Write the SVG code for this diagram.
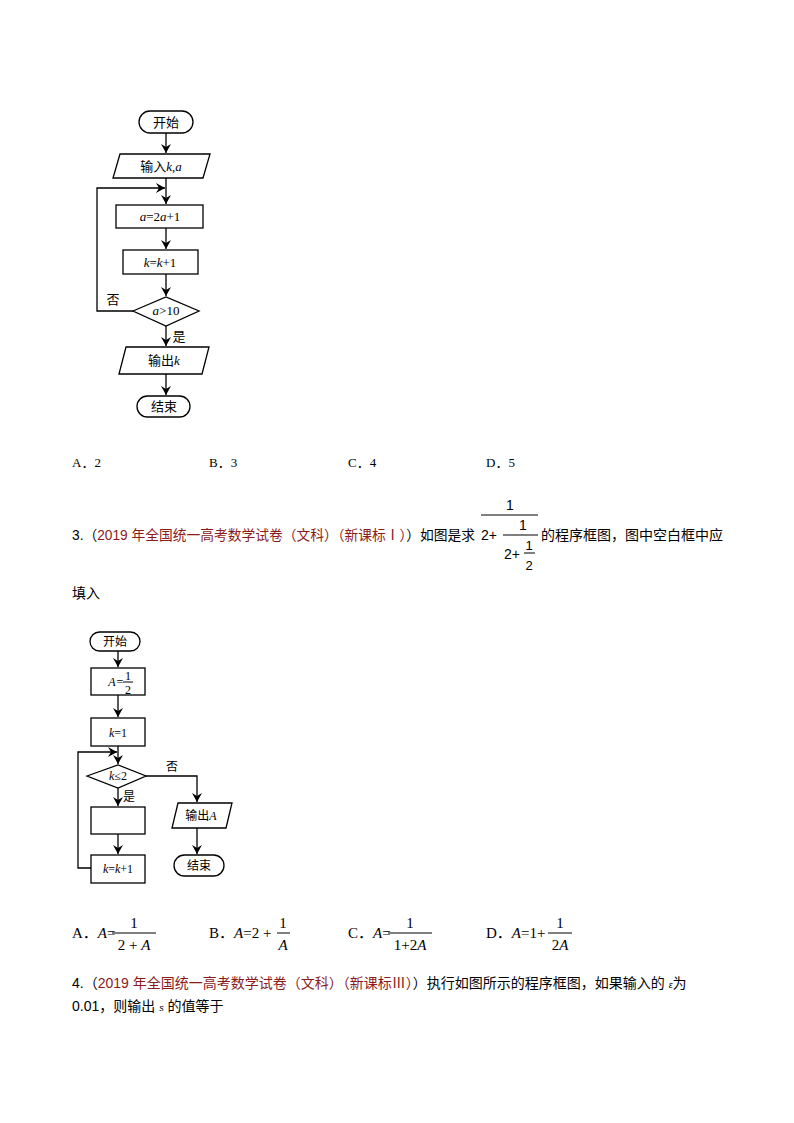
<svg xmlns="http://www.w3.org/2000/svg" width="794" height="1123" viewBox="0 0 794 1123">
<style>
text{font-family:"Liberation Serif","Noto Sans CJK SC",serif;font-size:13px;fill:#000}
.c{text-anchor:middle}
.i{font-style:italic}
.r{fill:#8b1a1a}
.s{fill:none;stroke:#000;stroke-width:1.3}
.t{font-family:"Liberation Sans","Noto Sans CJK SC",sans-serif;font-size:14px}
.m{font-size:12px}
.o{font-size:15px}
.f{font-family:"Liberation Sans",sans-serif;font-size:14px}
</style>
<defs><marker id="a" markerWidth="10" markerHeight="10" refX="9" refY="5" orient="auto" markerUnits="userSpaceOnUse"><path d="M0,0 L9,5 L0,10 L3,5 Z" fill="#000"/></marker></defs>
<rect width="794" height="1123" fill="#fff"/>
<g id="connectors1" class="s" marker-end="url(#a)">
<line x1="166" y1="133" x2="166" y2="153"/>
<line x1="166" y1="178" x2="166" y2="204"/>
<polyline points="133,311 97,311 97,188 165,188"/>
<line x1="166" y1="228" x2="166" y2="249"/>
<line x1="166" y1="274" x2="166" y2="296"/>
<line x1="166" y1="326" x2="166" y2="346"/>
<line x1="166" y1="374" x2="166" y2="395"/>
</g>
<g id="f1start"><rect x="139" y="111" width="54" height="22" rx="11" class="s"/><text x="166" y="127" class="c">开始</text></g>
<g id="f1in"><polygon points="120,154 210,154 203,178 113,178" class="s"/><text x="161" y="171" class="c">输入<tspan class="i">k</tspan>,<tspan class="i">a</tspan></text></g>
<g id="f1a"><rect x="116" y="205" width="87" height="23" class="s"/><text x="160" y="221" class="c"><tspan class="i">a</tspan>=2<tspan class="i">a</tspan>+1</text></g>
<g id="f1k"><rect x="123" y="250" width="75" height="24" class="s"/><text x="160" y="267" class="c"><tspan class="i">k</tspan>=<tspan class="i">k</tspan>+1</text></g>
<g id="f1d"><polygon points="133,311 166,297 199,311 166,326" class="s"/><text x="166" y="315" class="c"><tspan class="i">a</tspan>&gt;10</text></g>
<text x="113" y="304" class="c">否</text>
<text x="179" y="341" class="c">是</text>
<g id="f1out"><polygon points="126,347 209,347 202,374 119,374" class="s"/><text x="164" y="365" class="c">输出<tspan class="i">k</tspan></text></g>
<g id="f1end"><rect x="137" y="396" width="53" height="21" rx="10.5" class="s"/><text x="164" y="411" class="c">结束</text></g>

<text x="72" y="467">A．2</text><text x="209" y="467">B．3</text><text x="348" y="467">C．4</text><text x="486" y="467">D．5</text>

<text x="72" y="540" class="t" textLength="403" lengthAdjust="spacingAndGlyphs">3.（<tspan class="r">2019 年全国统一高考数学试卷（文科）（新课标Ⅰ）</tspan>）如图是求</text>
<text x="510" y="510" class="c f">1</text>
<line x1="481" y1="515" x2="538" y2="515" stroke="#000"/>
<text x="481" y="540" class="f">2+</text>
<text x="523" y="530" class="c f">1</text>
<line x1="503" y1="535" x2="538" y2="535" stroke="#000"/>
<text x="504" y="559" class="f">2+</text>
<text x="529" y="550" class="c f" style="font-size:13px">1</text>
<line x1="524" y1="553" x2="535" y2="553" stroke="#000"/>
<text x="529" y="570" class="c f" style="font-size:13px">2</text>
<text x="541" y="540" class="t">的程序框图，图中空白框中应</text>
<text x="72" y="598" class="t">填入</text>

<g id="connectors2" class="s" marker-end="url(#a)">
<line x1="118" y1="651" x2="118" y2="667"/>
<line x1="118" y1="695" x2="118" y2="717"/>
<line x1="118" y1="746" x2="118" y2="764"/>
<polyline points="91,868 78,868 78,752 117,752"/>
<polyline points="146,776 197,776 197,802"/>
<line x1="118" y1="788" x2="118" y2="806"/>
<line x1="118" y1="834" x2="118" y2="854"/>
<line x1="197" y1="828" x2="197" y2="854"/>
</g>
<g id="f2start"><rect x="90" y="632" width="50" height="19" rx="9.5" class="s"/><text x="115" y="646" class="c m">开始</text></g>
<g id="f2A"><rect x="91" y="668" width="54" height="27" class="s"/><text x="112" y="686" class="i c m">A</text><text x="120" y="686" class="c m">=</text><text x="128" y="680" class="c m">1</text><line x1="123" y1="682" x2="133" y2="682" stroke="#000"/><text x="128" y="694" class="c m">2</text></g>
<g id="f2k"><rect x="91" y="718" width="54" height="28" class="s"/><text x="118" y="737" class="c m"><tspan class="i">k</tspan>=1</text></g>
<g id="f2d"><polygon points="87,776 118,765 146,776 118,788" class="s"/><text x="118" y="780" class="c m"><tspan class="i">k</tspan>≤2</text></g>
<text x="172" y="771" class="c m">否</text>
<text x="129" y="801" class="c m">是</text>
<g id="f2blank"><rect x="91" y="807" width="54" height="27" class="s"/></g>
<g id="f2kk"><rect x="91" y="855" width="54" height="28" class="s"/><text x="118" y="873" class="c m"><tspan class="i">k</tspan>=<tspan class="i">k</tspan>+1</text></g>
<g id="f2out"><polygon points="178,803 232,803 226,828 172,828" class="s"/><text x="201" y="820" class="c m">输出<tspan class="i">A</tspan></text></g>
<g id="f2end"><rect x="174" y="855" width="50" height="21" rx="10.5" class="s"/><text x="199" y="870" class="c m">结束</text></g>

<text x="72" y="938" class="o">A．<tspan class="i">A</tspan>=</text>
<text x="134" y="928" class="c o">1</text><line x1="112" y1="933" x2="156" y2="933" stroke="#000"/><text x="134" y="950" class="c o">2 + <tspan class="i">A</tspan></text>
<text x="209" y="938" class="o">B．<tspan class="i">A</tspan>=2 +</text>
<text x="283" y="928" class="c o">1</text><line x1="277" y1="933" x2="290" y2="933" stroke="#000"/><text x="283" y="950" class="c i o">A</text>
<text x="348" y="938" class="o">C．<tspan class="i">A</tspan>=</text>
<text x="410" y="928" class="c o">1</text><line x1="388" y1="933" x2="432" y2="933" stroke="#000"/><text x="410" y="950" class="c o">1+2<tspan class="i">A</tspan></text>
<text x="486" y="938" class="o">D．<tspan class="i">A</tspan>=1+</text>
<text x="560" y="928" class="c o">1</text><line x1="548" y1="933" x2="572" y2="933" stroke="#000"/><text x="560" y="950" class="c o">2<tspan class="i">A</tspan></text>

<text x="72" y="988" class="t">4.（<tspan class="r">2019 年全国统一高考数学试卷（文科）（新课标Ⅲ）</tspan>）执行如图所示的程序框图，如果输入的 <tspan class="i" style="font-size:9px">ε</tspan>为</text>
<text x="72" y="1011" class="t">0.01，则输出 <tspan class="i" style="font-size:9px">s</tspan> 的值等于</text>
</svg>
